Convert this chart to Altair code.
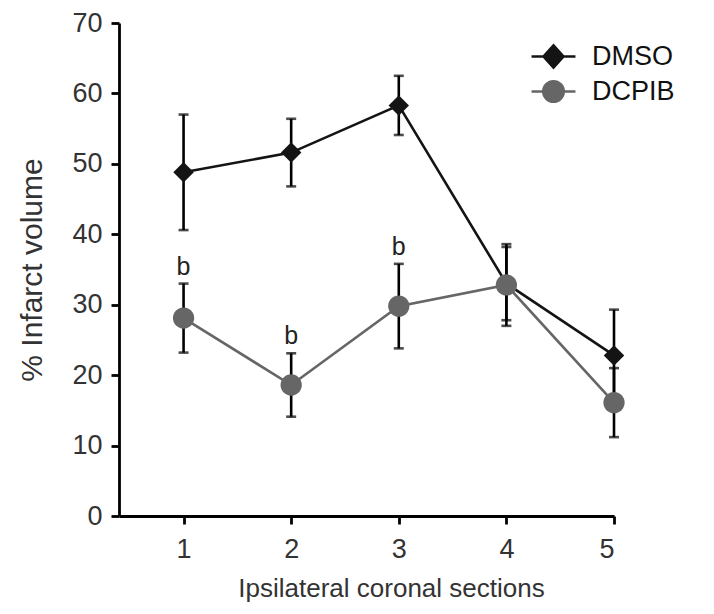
import altair as alt
import pandas as pd

sections = [1, 2, 3, 4, 5]
groups = ["DMSO", "DCPIB"]
dmso_mean = [48.8, 51.6, 58.3, 33.0, 22.8]
dmso_err = [8.2, 4.8, 4.2, 5.2, 6.5]
dcpib_mean = [28.1, 18.6, 29.8, 32.8, 16.1]
dcpib_err = [4.9, 4.5, 6.0, 5.8, 4.9]
sig_sections = [1, 2, 3]
sig_label = "b"
y_ticks = [0, 10, 20, 30, 40, 50, 60, 70]
colors = ["#141414", "#666666"]

rows = []
for g, means, errs in [("DMSO", dmso_mean, dmso_err), ("DCPIB", dcpib_mean, dcpib_err)]:
    for s, m, e in zip(sections, means, errs):
        rows.append(dict(section=s, group=g, mean=m, lo=m - e, hi=m + e))
df = pd.DataFrame(rows)
ann = df[(df.group == "DCPIB") & (df.section.isin(sig_sections))].assign(label=sig_label)

FONT = "Liberation Sans"
YT = "% Infarct volume"

x = alt.X("section:Q",
          scale=alt.Scale(domain=[0.4, 5], nice=False, zero=False),
          axis=alt.Axis(values=sections, title="Ipsilateral coronal sections", format="d",
                        titleX=272, titleAnchor="middle"))

def ych(field):
    return alt.Y(f"{field}:Q", title=YT,
                 scale=alt.Scale(domain=[0, 70], nice=False),
                 axis=alt.Axis(values=y_ticks))

color = alt.Color("group:N", scale=alt.Scale(domain=groups, range=colors), legend=None)

base = alt.Chart(df)

lines = base.mark_line(strokeWidth=2.6).encode(x=x, y=ych("mean"), color=color)
err = base.mark_rule(color="black", strokeWidth=2.6).encode(x=x, y=ych("lo"), y2="hi:Q")
cap_lo = base.mark_tick(color="black", orient="horizontal", size=10, thickness=2.6).encode(x=x, y=ych("lo"))
cap_hi = base.mark_tick(color="black", orient="horizontal", size=10, thickness=2.6).encode(x=x, y=ych("hi"))

dmso_pts = base.transform_filter(alt.datum.group == "DMSO").mark_point(
    shape="diamond", filled=True, size=420, color=colors[0], opacity=1).encode(x=x, y=ych("mean"))
dcpib_pts = base.transform_filter(alt.datum.group == "DCPIB").mark_circle(
    size=452, color=colors[1], opacity=1).encode(x=x, y=ych("mean"))

diamond_path = "M-1.83,0H1.83M0,-0.92L0.83,0L0,0.92L-0.83,0Z"
circle_path = "M-1.83,0H1.83M-0.85,0A0.85,0.85,0,1,0,0.85,0A0.85,0.85,0,1,0,-0.85,0Z"

leg = alt.Legend(title=None, orient="none", legendX=421, legendY=20, symbolSize=576,
                 symbolOpacity=1, symbolStrokeWidth=2.6, labelFontSize=27, labelFont=FONT,
                 labelColor="#111", labelOffset=25, rowPadding=3, padding=0)

legend_layer = base.mark_point(filled=True, opacity=0, strokeWidth=2.6).encode(
    x=x, y=ych("mean"),
    shape=alt.Shape("group:N", scale=alt.Scale(domain=groups, range=[diamond_path, circle_path]), legend=leg),
    fill=alt.Fill("group:N", scale=alt.Scale(domain=groups, range=colors), legend=leg),
    stroke=alt.Stroke("group:N", scale=alt.Scale(domain=groups, range=colors), legend=leg),
)

labels = alt.Chart(ann).mark_text(baseline="alphabetic", dy=-9, fontSize=25, font=FONT, color="#222").encode(
    x=x, y=ych("hi"), text="label:N")

chart = alt.layer(legend_layer, lines, err, cap_lo, cap_hi, dmso_pts, dcpib_pts, labels).properties(
    width=495, height=493,
    autosize=alt.AutoSizeParams(type="none"),
    padding={"left": 111, "top": 15, "right": 92, "bottom": 90},
).configure_view(stroke=None).configure_axis(
    grid=False, domainColor="black", domainWidth=2.8, tickColor="black", tickWidth=2.8,
    tickSize=8, labelFont=FONT, labelFontSize=27, labelColor="#333", titleFont=FONT,
    titleColor="#333", titleFontWeight="normal",
).configure_axisX(labelPadding=12, titlePadding=13, titleFontSize=26).configure_axisY(
    labelPadding=9, titlePadding=24, titleFontSize=30)

chart.save("out.html", embed_options={"renderer": "svg", "actions": False})
